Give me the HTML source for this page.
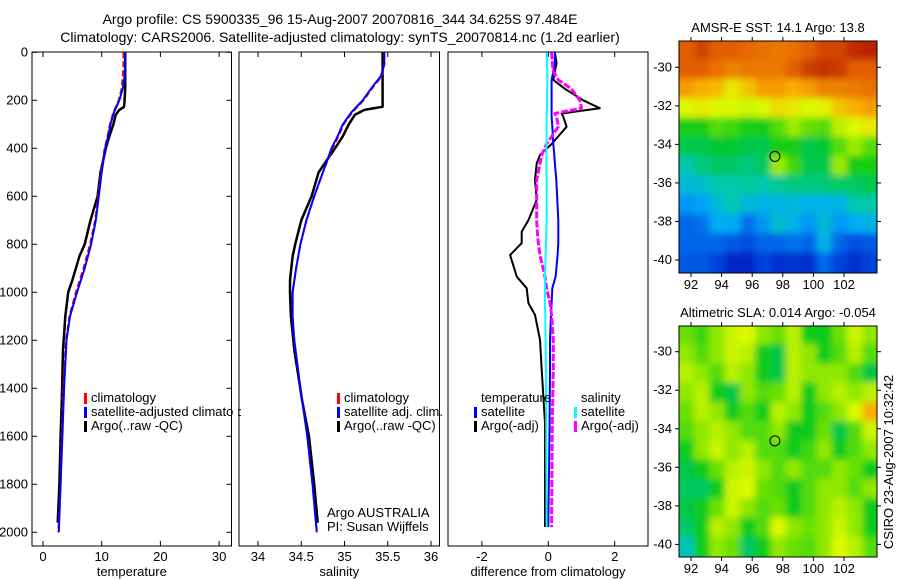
<!DOCTYPE html>
<html><head><meta charset="utf-8"><style>
html,body{margin:0;padding:0;background:#fff;}
svg{display:block;font-family:"Liberation Sans",sans-serif;}
text{font-size:13px;fill:#000;}
</style></head><body>
<svg id="chart" width="900" height="580" viewBox="0 0 900 580" xmlns="http://www.w3.org/2000/svg">
<defs>
<clipPath id="c1"><rect x="32" y="52" width="200" height="494"/></clipPath>
<clipPath id="c2"><rect x="239" y="52" width="201" height="494"/></clipPath>
<clipPath id="c3"><rect x="448" y="52" width="200" height="494"/></clipPath>
<clipPath id="cm1"><rect x="679" y="41" width="198" height="232"/></clipPath>
<clipPath id="cm2"><rect x="679" y="326" width="198" height="231"/></clipPath>
<clipPath id="legclip"><rect x="0" y="380" width="241" height="60"/></clipPath>
<filter id="blur" x="-5%" y="-5%" width="110%" height="110%"><feGaussianBlur stdDeviation="3.5"/></filter>
</defs>
<text x="340" y="24" text-anchor="middle" style="font-size:14px">Argo profile: CS 5900335_96 15-Aug-2007 20070816_344 34.625S 97.484E</text>
<text x="340" y="42" text-anchor="middle" style="font-size:14px">Climatology: CARS2006. Satellite-adjusted climatology: synTS_20070814.nc (1.2d earlier)</text>
<g id="g"></g>
</svg>
<script>
// ---- data ----
const depthClim = [0,50,100,150,200,250,300,350,400,500,600,700,800,900,1000,1100,1200,1400,1600,1800,2000];
const tempClim  = [13.7,13.7,13.6,13.4,12.9,12.0,11.4,11.0,10.5,9.9,9.4,8.9,8.0,6.9,5.6,4.5,3.9,3.5,3.2,3.0,2.6];
const tempSat   = [14.0,14.0,13.9,13.6,13.0,12.1,11.5,11.1,10.6,10.0,9.5,9.0,8.2,7.1,5.8,4.6,4.0,3.6,3.3,3.0,2.7];
const salClim   = [35.46,35.46,35.43,35.32,35.22,35.09,34.99,34.93,34.86,34.75,34.65,34.56,34.49,34.44,34.40,34.40,34.42,34.49,34.57,34.63,34.68];
const salSat    = [35.46,35.46,35.42,35.31,35.21,35.08,34.98,34.92,34.85,34.75,34.65,34.56,34.49,34.44,34.40,34.40,34.42,34.49,34.57,34.63,34.68];
const depthArgo = [0,50,100,150,200,227,240,260,300,350,400,500,600,700,800,850,950,1000,1100,1240,1450,1600,1800,1960];
const tempArgo  = [14.0,14.0,14.0,14.0,13.9,13.8,13.0,12.4,12.0,11.3,10.7,9.8,9.3,8.1,7.1,6.2,5.0,4.3,3.8,3.4,3.2,3.0,2.8,2.5];
const salArgo   = [35.44,35.44,35.44,35.44,35.44,35.44,35.23,35.12,35.05,34.98,34.89,34.70,34.62,34.50,34.43,34.40,34.37,34.37,34.38,34.42,34.51,34.59,34.65,34.69];
const depthDiff = [0,45,80,115,152,200,233,255,268,310,382,428,463,532,615,700,747,795,845,935,983,1045,1094,1198,1323,1545,1978];
const dTempArgo = [0.2,0.25,0.2,0.15,0.5,1.05,1.55,0.4,0.45,0.55,0.1,-0.25,-0.35,-0.4,-0.35,-0.6,-0.8,-0.8,-1.15,-0.95,-0.65,-0.6,-0.4,-0.25,-0.2,-0.1,-0.1];
const dTempSat  = [0.2,0.2,0.15,0.1,0.1,0.1,0.1,0.1,0.1,0.12,0.15,0.18,0.2,0.24,0.27,0.3,0.3,0.3,0.28,0.22,0.12,0.1,0.08,0.05,0.05,0.04,0.0];
const dSalArgo  = [0.1,0.12,0.15,0.3,0.7,0.95,1.0,0.2,0.25,0.3,-0.05,-0.2,-0.25,-0.35,-0.35,-0.35,-0.33,-0.3,-0.25,-0.1,-0.05,0.05,0.1,0.15,0.15,0.12,0.1];
const dSalSat   = [-0.05,-0.04,-0.03,-0.03,-0.03,-0.04,-0.04,-0.05,-0.05,-0.05,-0.05,-0.06,-0.06,-0.05,-0.05,-0.05,-0.06,-0.07,-0.08,-0.1,-0.1,-0.1,-0.09,-0.08,-0.07,-0.06,-0.05];
const depthTicks = [0,200,400,600,800,1000,1200,1400,1600,1800,2000];
const tempTicks = [0,10,20,30];
const salTicks = [34,34.5,35,35.5,36];
const diffTicks = [-2,0,2];
const lonTicks = [92,94,96,98,100,102];
const latTicks = [-30,-32,-34,-36,-38,-40];
const mapLon0 = 91.2, mapLat0 = -28.6;
const sstGrid = [
[16.9,17.2,16.9,16.9,16.8,16.7,16.6,16.7,16.9,17.2,17.2,17.5,17.6],
[16.9,16.9,16.7,16.5,16.6,16.6,16.6,16.9,17.3,17.4,17.3,16.9,16.9],
[16.2,16.0,15.9,15.5,15.8,16.2,16.2,16.0,16.2,16.5,16.5,16.6,16.7],
[15.3,15.5,15.3,15.3,15.2,15.3,15.6,15.5,15.3,15.4,15.8,16.0,16.2],
[14.2,14.2,14.5,14.4,14.2,14.2,14.5,14.9,14.6,14.5,15.1,15.3,15.5],
[13.9,13.9,14.0,14.0,13.9,13.9,14.2,14.2,13.9,14.0,14.5,14.9,14.5],
[13.5,13.7,13.8,13.8,13.7,13.8,14.9,14.4,13.9,13.9,14.9,14.2,14.2],
[13.2,13.3,13.5,13.5,13.6,13.5,13.6,13.7,13.7,13.7,13.8,13.8,13.9],
[12.8,12.9,13.2,13.5,13.2,13.1,13.1,13.2,13.1,13.1,13.1,13.5,13.5],
[12.4,12.5,13.0,13.0,12.5,12.8,13.3,13.1,12.8,13.2,12.8,13.0,13.1],
[12.4,12.4,12.4,12.3,12.2,12.4,12.4,12.5,12.4,13.1,12.4,12.2,12.3],
[12.3,12.3,12.1,11.7,11.7,12.1,11.9,11.9,11.9,12.4,12.1,11.8,12.1]];
const slaGrid = [
[0.01,-0.01,0.03,0.06,0.07,0.03,0.01,0.05,-0.03,-0.03,0.01,0.06,0.03],
[0.03,0,0.03,0.06,0.05,-0.03,-0.05,0.05,0.03,-0.03,0,0.05,0],
[0.05,0.03,0,0.05,0.03,-0.03,-0.05,0.05,0.03,0.03,0.03,0,-0.05],
[0.03,0.05,-0.03,-0.05,0.03,0,0.01,0.05,-0.03,0.03,0.05,0.03,0.05],
[0.01,0.05,0.03,-0.03,0,-0.03,0.05,0.03,-0.03,0,0.03,0.07,0.13],
[0,0.03,0.05,0.03,0,0,0.03,-0.03,-0.03,0.01,-0.05,0,0.06],
[-0.03,0.03,0.06,0.03,0.05,0,0,-0.03,-0.01,0.03,-0.03,0,0.03],
[-0.05,-0.03,0.01,0.05,0.06,0.03,0,0.03,0,0,0.03,0.01,-0.03],
[-0.06,-0.06,-0.03,0.06,0.07,0.01,0,-0.03,0,0.03,0.03,0,0.03],
[-0.05,-0.03,0.01,0.06,0.03,0,0.01,-0.03,0,0.03,0.05,0.03,-0.03],
[-0.06,-0.03,0.05,0.03,-0.03,0,0.07,0.03,0.01,0.03,0.06,0.03,-0.03],
[-0.09,-0.03,0.03,0.01,-0.06,-0.03,0.03,0.01,0,0.03,0.07,0.05,0]];
const argoLon = 97.484, argoLat = -34.625;

// ---- helpers ----
const NS='http://www.w3.org/2000/svg';
const G=document.getElementById('g');
function mk(tag,attrs,parent){const e=document.createElementNS(NS,tag);for(const k in attrs)e.setAttribute(k,attrs[k]);(parent||G).appendChild(e);return e;}
const yD = d => 52.3 + d*0.24;
const xT = t => 43 + t*5.87;
const xS = s => 258 + (s-34)*86.5;
const xDf = v => 548.3 + v*33.2;
const xLon = l => 691 + (l-92)*15.3;
const yLat1 = l => 67.3 + (-30-l)*19.27;
const yLat2 = l => 351.7 + (-30-l)*19.27;

const CMAP=[[0,[0,0,150]],[0.15,[0,60,220]],[0.28,[0,170,250]],[0.36,[0,200,170]],[0.44,[0,200,30]],[0.52,[110,225,0]],[0.62,[225,250,0]],[0.72,[250,170,0]],[0.85,[225,90,0]],[1,[160,0,0]]];
function cmap(v){v=Math.max(0,Math.min(1,v));
 for(let i=1;i<CMAP.length;i++){if(v<=CMAP[i][0]){const a=CMAP[i-1],b=CMAP[i],f=(v-a[0])/(b[0]-a[0]);
  return 'rgb('+a[1].map((c,k)=>Math.round(c+(b[1][k]-c)*f)).join(',')+')';}}
 return 'rgb(160,0,0)';}

function line(xs,ys,xf,color,w,dash,clip,name){
 const pts=xs.map((v,i)=>xf(v).toFixed(1)+','+yD(ys[i]).toFixed(1)).join(' ');
 const p=mk('polyline',{points:pts,fill:'none',stroke:color,'stroke-width':w,'clip-path':'url(#'+clip+')','stroke-linejoin':'round'});
 if(dash)p.setAttribute('stroke-dasharray',dash);
 
 
}
function panel(x0,x1,ticks,xf,label,name){
 const r=mk('rect',{x:x0,y:52,width:x1-x0,height:494,fill:'none',stroke:'#000','stroke-width':1});
 
 
 ticks.forEach(t=>{const x=xf(t);
  mk('line',{x1:x,x2:x,y1:52,y2:57,stroke:'#000'});
  mk('line',{x1:x,x2:x,y1:546,y2:541,stroke:'#000'});
  const tx=mk('text',{x:x,y:561,'text-anchor':'middle'});tx.textContent=t;
  
  
 });
 const lb=mk('text',{x:(x0+x1)/2,y:576,'text-anchor':'middle'});lb.textContent=label;
 
 
}
function legend(x,y,color,txt,name,clip){
 mk('rect',{x:x,y:y-9,width:3,height:11,fill:color});
 const t=mk('text',{x:x+7,y:y});t.textContent=txt;
 if(clip)t.setAttribute('clip-path','url(#'+clip+')');
 
 
}

// ---- panel 1: temperature ----
panel(32,231.5,tempTicks,xT,'temperature','temperature-panel');
depthTicks.forEach(d=>{const y=yD(d);
 mk('line',{x1:32,x2:37,y1:y,y2:y,stroke:'#000'});
 mk('line',{x1:231.5,x2:226.5,y1:y,y2:y,stroke:'#000'});
 const t=mk('text',{x:28,y:y+4,'text-anchor':'end'});t.textContent=d;
 
 
});
line(tempArgo,depthArgo,xT,'#000',2.5,null,'c1','temp-argo-line');
line(tempClim,depthClim,xT,'#f00',2,'6 3','c1','temp-climatology-line');
line(tempSat,depthClim,xT,'#00f',2,null,'c1','temp-satellite-line');
legend(84,402,'#f00','climatology','legend-climatology');
legend(84,416,'#00f','satellite-adjusted climatology','legend-satellite-adjusted','legclip');
legend(84,430,'#000','Argo(..raw -QC)','legend-argo');
mk('rect',{x:233,y:380,width:5,height:60,fill:'#fff'});
mk('line',{x1:231.5,x2:231.5,y1:52,y2:546,stroke:'#000'});

// ---- panel 2: salinity ----
panel(239,439.5,salTicks,xS,'salinity','salinity-panel');
line(salArgo,depthArgo,xS,'#000',2.5,null,'c2','sal-argo-line');
line(salClim,depthClim,xS,'#f00',2,'6 3','c2','sal-climatology-line');
line(salSat,depthClim,xS,'#00f',2,null,'c2','sal-satellite-line');
legend(337,402,'#f00','climatology','legend2-climatology');
legend(337,416,'#00f','satellite adj. clim.','legend2-satellite');
legend(337,430,'#000','Argo(..raw -QC)','legend2-argo');
const n1=mk('text',{x:327,y:517});n1.textContent='Argo AUSTRALIA';


const n2=mk('text',{x:327,y:531});n2.textContent='PI: Susan Wijffels';



// ---- panel 3: difference ----
panel(448,648,diffTicks,xDf,'difference from climatology','difference-panel');
line(dTempArgo,depthDiff,xDf,'#000',2,null,'c3','diff-temp-argo-line');
line(dTempSat,depthDiff,xDf,'#00f',2,null,'c3','diff-temp-satellite-line');
line(dSalArgo,depthDiff,xDf,'#f0f',3,'7 2','c3','diff-sal-argo-line');
line(dSalSat,depthDiff,xDf,'#0ff',2,null,'c3','diff-sal-satellite-line');
const lt=mk('text',{x:481,y:402});lt.textContent='temperature';


const ls=mk('text',{x:581,y:402});ls.textContent='salinity';


legend(474,416,'#00f','satellite','legend3-temp-satellite');
legend(474,430,'#000','Argo(-adj)','legend3-temp-argo');
legend(574,416,'#0ff','satellite','legend3-sal-satellite');
legend(574,430,'#f0f','Argo(-adj)','legend3-sal-argo');

// ---- maps ----
function map(grid,vmin,vmax,yTop,yBot,yLat,clip,title,name){
 const g=mk('g',{'clip-path':'url(#'+clip+')'});
 
 
 const inner=mk('g',{filter:'url(#blur)'},g);
 const rows=grid.length;
 grid.forEach((row,i)=>row.forEach((v,j)=>{
  const x=xLon(mapLon0+j), x2=xLon(mapLon0+j+1);
  const y=yLat(mapLat0-i), y2=(i===rows-1)?yBot+10:yLat(mapLat0-i-1);
  const c=mk('rect',{x:(j===0?x-10:x).toFixed(1),y:(i===0?y-10:y).toFixed(1),width:(x2-x+(j===0?10:0)+(j===row.length-1?10:0)+0.5).toFixed(1),height:(y2-y+(i===0?10:0)+0.5).toFixed(1),fill:cmap((v-vmin)/(vmax-vmin))},inner);
  
  
 }));
 const fr=mk('rect',{x:679,y:yTop,width:198,height:yBot-yTop,fill:'none',stroke:'#000'});
 
 
 lonTicks.forEach(l=>{const x=xLon(l);
  mk('line',{x1:x,x2:x,y1:yTop,y2:yTop-4,stroke:'#000'});
  mk('line',{x1:x,x2:x,y1:yBot,y2:yBot+4,stroke:'#000'});
  const t=mk('text',{x:x,y:yBot+16,'text-anchor':'middle'});t.textContent=l;
  
  
 });
 latTicks.forEach(l=>{const y=yLat(l);
  mk('line',{x1:679,x2:675,y1:y,y2:y,stroke:'#000'});
  mk('line',{x1:877,x2:881,y1:y,y2:y,stroke:'#000'});
  const t=mk('text',{x:672,y:y+4,'text-anchor':'end'});t.textContent=l;
  
  
 });
 const c=mk('circle',{cx:xLon(argoLon),cy:yLat(argoLat),r:5,fill:'none',stroke:'#000','stroke-width':1});
 
 
 const t=mk('text',{x:778,y:yTop-9,'text-anchor':'middle'});t.textContent=title;
 
 
}
map(sstGrid,11,18,41,273,yLat1,'cm1','AMSR-E SST: 14.1 Argo: 13.8','sst-map');
map(slaGrid,-0.3,0.3,326,557,yLat2,'cm2','Altimetric SLA: 0.014 Argo: -0.054','sla-map');
const cs=mk('text',{x:893,y:462,'text-anchor':'middle',transform:'rotate(-90 893 462)'});cs.textContent='CSIRO 23-Aug-2007 10:32:42';


</script>
</body></html>
